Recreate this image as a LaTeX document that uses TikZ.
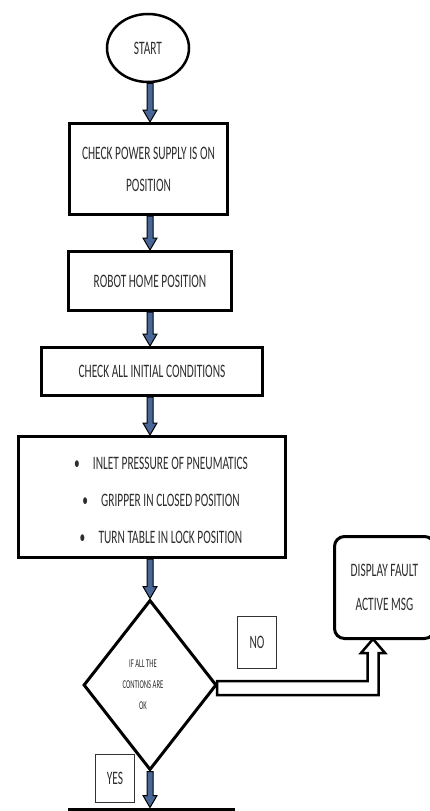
\documentclass[tikz,border=0pt]{standalone}
\usepackage{fontspec}
\setmainfont{Carlito}
\usetikzlibrary{shapes.geometric,calc}
\definecolor{arrowblue}{RGB}{72,102,150}
\definecolor{txt}{RGB}{45,45,45}
\newcommand{\sq}[1]{\scalebox{0.6}[1]{#1}}
\newcommand{\sqd}[1]{\scalebox{0.55}[1]{#1}}
\newcommand{\blockarrow}[2]{%
  \path (#1.south -| ax) coordinate (bs) (#2.north -| ax) coordinate (bt);
  \filldraw[barrow] ($(bs)+(-3,0)$) -- ($(bt)+(-3,-12)$) -- ($(bt)+(-7,-12)$) -- (bt)
    -- ($(bt)+(7,-12)$) -- ($(bt)+(3,-12)$) -- ($(bs)+(3,0)$) -- cycle;}
\begin{document}
\begin{tikzpicture}[x=1pt,y=-1pt,
  box/.style={draw, line width=3pt, rectangle, inner sep=0pt, text=txt, align=center,
    font=\fontsize{19}{32}\selectfont},
  tag/.style={draw=black!80, line width=1.2pt, rectangle, inner sep=0pt, text=txt,
    font=\fontsize{19}{32}\selectfont},
  barrow/.style={fill=arrowblue, draw=black, line width=1pt},
  hollow/.style={draw=black, fill=white, line width=2.5pt, line join=miter}]
\useasboundingbox (0,0) rectangle (430,811);
\clip (0,0) rectangle (430,811);
\coordinate (ax) at (150,0);

\node[ellipse, draw, line width=2.5pt, minimum width=82pt, minimum height=68pt, inner sep=0pt,
  text=txt, font=\fontsize{19}{32}\selectfont] (start) at (148,48) {\sq{START}};

\node[box, minimum width=158pt, minimum height=91pt] (b1) at (148.5,169)
  {\sq{CHECK POWER SUPPLY IS ON}\\\sq{POSITION}};

\node[box, minimum width=163pt, minimum height=59pt] (b2) at (150,281)
  {\sq{ROBOT HOME POSITION}};

\node[box, minimum width=221pt, minimum height=48pt] (b3) at (152,371.5)
  {\sq{CHECK ALL INITIAL CONDITIONS}};

\node[box, minimum width=267pt, minimum height=121pt] (b4) at (152,497) {};
\node[text=txt, align=center, inner sep=0pt, font=\fontsize{19}{37}\selectfont] (b4t) at (161,500)
  {\sq{\textbullet\hspace{22pt}INLET PRESSURE OF PNEUMATICS}\\
   \sq{\textbullet\hspace{22pt}GRIPPER IN CLOSED POSITION}\\
   \sq{\textbullet\hspace{22pt}TURN TABLE IN LOCK POSITION}};

\node[diamond, draw, line width=3pt, minimum width=133pt, minimum height=170pt, inner sep=0pt] (dec) at (150,685) {};
\node[text=txt, align=center, inner sep=0pt, font=\fontsize{12}{21}\selectfont] (dect) at (143,685)
  {\sqd{IF ALL THE}\\\sqd{CONTIONS ARE}\\\sqd{OK}};

\node[box, rounded corners=10pt, minimum width=100pt, minimum height=102pt] (disp) at (384.5,587.5)
  {\sq{DISPLAY FAULT}\\[2pt]\sq{ACTIVE MSG}};

\node[tag, minimum width=39pt, minimum height=52pt] (no) at (257,642.5) {\sq{NO}\hspace{10pt}};
\node[tag, minimum width=39pt, minimum height=48pt] (yes) at (115,778.5) {\sq{YES}\hspace{8pt}};

\node[box, minimum width=164pt, minimum height=60pt] (next) at (151.5,839) {};

\blockarrow{start}{b1}
\blockarrow{b1}{b2}
\blockarrow{b2}{b3}
\blockarrow{b3}{b4}
\blockarrow{b4}{dec}
\blockarrow{dec}{next}

\coordinate (notip) at (373,639);
\draw[hollow] ($(dec.east)+(-1,-4)$) -- ($(notip |- dec.east)+(-5.5,-4)$) -- ($(notip)+(-5.5,14)$)
  -- ($(notip)+(-12,14)$) -- (notip) -- ($(notip)+(12,14)$) -- ($(notip)+(5.5,14)$)
  -- ($(notip |- dec.east)+(5.5,10)$) -- ($(dec.east)+(-1,10)$) -- cycle;
\end{tikzpicture}
\end{document}
